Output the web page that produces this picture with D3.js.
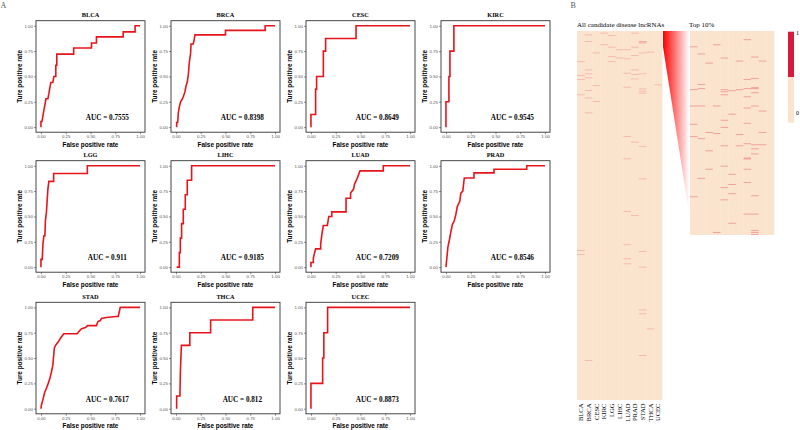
<!DOCTYPE html>
<html>
<head>
<meta charset="utf-8">
<script src="https://cdn.jsdelivr.net/npm/d3@7"></script>
<style>
  body { margin: 0; background: #fff; }
  svg { display: block; }
</style>
</head>
<body>
<svg id="chart" width="800" height="430"></svg>
<script>
// cancer types, in panel order
const cancers = ['BLCA', 'BRCA', 'CESC', 'KIRC', 'LGG', 'LIHC', 'LUAD', 'PRAD', 'STAD', 'THCA', 'UCEC'];
const aucLabels = ['0.7555', '0.8398', '0.8649', '0.9545', '0.911', '0.9185', '0.7209', '0.8546', '0.7617', '0.812', '0.8873'];
const axisTicks = [0, 0.25, 0.5, 0.75, 1];

// ROC curves, [false positive rate, true positive rate]
const rocBLCA = [[0,0],[0,0.056],[0.01,0.056],[0.02,0.11],[0.03,0.17],[0.04,0.22],[0.05,0.28],[0.07,0.28],[0.08,0.33],[0.09,0.39],[0.1,0.44],[0.12,0.44],[0.13,0.5],[0.15,0.5],[0.15,0.61],[0.16,0.61],[0.16,0.72],[0.33,0.72],[0.33,0.78],[0.51,0.78],[0.51,0.83],[0.56,0.83],[0.56,0.89],[0.83,0.89],[0.83,0.94],[0.95,0.94],[0.95,1],[1,1]];
const rocBRCA = [[0.007,0],[0.007,0.045],[0.017,0.045],[0.024,0.14],[0.034,0.2],[0.047,0.25],[0.06,0.27],[0.074,0.3],[0.091,0.35],[0.1,0.4],[0.115,0.45],[0.125,0.52],[0.135,0.64],[0.148,0.73],[0.152,0.82],[0.175,0.82],[0.185,0.87],[0.192,0.91],[0.5,0.91],[0.5,0.955],[0.9,0.955],[0.9,1],[1,1]];
const rocCESC = [[0,0],[0,0.125],[0.047,0.125],[0.047,0.375],[0.057,0.375],[0.057,0.5],[0.125,0.5],[0.125,0.75],[0.148,0.75],[0.148,0.875],[0.455,0.875],[0.455,1],[1,1]];
const rocKIRC = [[0,0],[0,0.25],[0.03,0.25],[0.03,0.5],[0.04,0.5],[0.04,0.75],[0.08,0.75],[0.08,1],[1,1]];
const rocLGG = [[0,0],[0,0.077],[0.013,0.077],[0.02,0.23],[0.03,0.31],[0.04,0.31],[0.045,0.46],[0.055,0.54],[0.07,0.77],[0.08,0.846],[0.128,0.846],[0.128,0.923],[0.468,0.923],[0.468,1],[1,1]];
const rocLIHC = [[0.007,0],[0.034,0],[0.034,0.143],[0.044,0.143],[0.044,0.286],[0.057,0.286],[0.057,0.429],[0.074,0.429],[0.074,0.571],[0.094,0.571],[0.094,0.714],[0.114,0.714],[0.114,0.857],[0.158,0.857],[0.158,1],[1,1]];
const rocLUAD = [[0,0],[0,0.045],[0.024,0.045],[0.024,0.09],[0.047,0.18],[0.098,0.18],[0.098,0.23],[0.11,0.32],[0.125,0.41],[0.165,0.41],[0.18,0.5],[0.21,0.5],[0.21,0.545],[0.354,0.545],[0.354,0.68],[0.4,0.68],[0.4,0.73],[0.43,0.77],[0.44,0.82],[0.46,0.86],[0.48,0.91],[0.495,0.95],[0.73,0.95],[0.73,1],[1,1]];
const rocPRAD = [[0,0],[0.01,0.1],[0.02,0.2],[0.035,0.27],[0.05,0.35],[0.065,0.42],[0.085,0.46],[0.1,0.52],[0.115,0.6],[0.14,0.65],[0.15,0.73],[0.17,0.75],[0.185,0.88],[0.283,0.88],[0.283,0.93],[0.485,0.93],[0.485,0.965],[0.815,0.965],[0.815,1],[1,1]];
const rocSTAD = [[0,0],[0.005,0.04],[0.02,0.09],[0.037,0.16],[0.05,0.19],[0.07,0.24],[0.09,0.3],[0.105,0.36],[0.12,0.43],[0.135,0.6],[0.15,0.63],[0.175,0.66],[0.2,0.7],[0.23,0.74],[0.365,0.74],[0.39,0.77],[0.41,0.79],[0.45,0.8],[0.47,0.82],[0.56,0.82],[0.575,0.86],[0.6,0.87],[0.61,0.89],[0.66,0.9],[0.76,0.91],[0.78,0.91],[0.8,1],[1,1]];
const rocTHCA = [[0.007,0],[0.007,0.125],[0.04,0.125],[0.045,0.375],[0.055,0.625],[0.14,0.625],[0.14,0.75],[0.35,0.75],[0.35,0.875],[0.775,0.875],[0.775,1],[1,1]];
const rocUCEC = [[0,0],[0,0.25],[0.118,0.25],[0.118,0.5],[0.13,0.5],[0.13,0.75],[0.168,0.75],[0.168,1],[1,1]];
const rocCurves = [rocBLCA, rocBRCA, rocCESC, rocKIRC, rocLGG, rocLIHC, rocLUAD, rocPRAD, rocSTAD, rocTHCA, rocUCEC];

// heatmap: rows holding a 1, per cancer (all candidates / top 10%)
const allRows = 2000;
const topRows = 200;
const allHits = [
  [163, 238, 260, 343, 1187, 1209],
  [18, 54, 208, 229, 251, 320, 360, 441, 1783],
  [116, 293, 379],
  [9, 72],
  [22, 85, 136, 163],
  [99, 143],
  [99, 148, 226, 302, 569, 690, 976, 1156, 1232, 1259],
  [9, 85, 130, 208, 233, 257, 600, 997],
  [54, 58, 63, 116, 229, 311, 323, 334, 623, 799, 1192, 1277, 1509, 1530, 1756],
  [112, 1612],
  [289]
];
const topHits = [
  [15, 57, 73, 91, 103, 162],
  [22, 52, 56, 73, 105, 144],
  [31, 99, 117, 135],
  [13, 73, 100, 197],
  [26, 57, 59, 62, 87, 94, 112, 132, 153, 165],
  [58, 81, 140, 150, 159, 188],
  [29, 57, 101, 112],
  [8, 47, 56, 64, 75, 90, 110, 124, 125, 135, 148, 179],
  [25, 46, 55, 56, 60, 73, 111, 115, 120, 161, 179, 195, 197, 199],
  [29, 78, 99, 111],
  []
];
const legendValues = [1, 0];

const svg = d3.select('#chart');
const serif = "'Liberation Serif', 'Times New Roman', serif";
const sans = "'Liberation Sans', Arial, sans-serif";

// ---------- panel A: ROC grid ----------
const colX = [36, 171, 306, 441];
const rowY = [20.7, 160.7, 302.3];
const boxW = 109;
const boxH = 111.5;

svg.append('text').attr('x', 0.5).attr('y', 8).attr('font-family', serif)
  .attr('font-size', '8px').attr('fill', '#555').text('A');

const line = d3.line();

cancers.forEach((name, i) => {
  const g = svg.append('g')
    .attr('transform', `translate(${colX[i % 4]},${rowY[Math.floor(i / 4)]})`);
  const x = d3.scaleLinear().domain([-0.05, 1.05]).range([0, boxW]);
  const y = d3.scaleLinear().domain([-0.05, 1.05]).range([boxH, 0]);

  const xAxis = g.append('g').attr('transform', `translate(0,${boxH})`)
    .call(d3.axisBottom(x).tickValues(axisTicks).tickFormat(d3.format('.2f')).tickSize(2).tickPadding(1));
  const yAxis = g.append('g')
    .call(d3.axisLeft(y).tickValues(axisTicks).tickFormat(d3.format('.2f')).tickSize(2).tickPadding(1));
  [xAxis, yAxis].forEach((a) => {
    a.select('.domain').remove();
    a.selectAll('line').attr('stroke', '#444').attr('stroke-width', 0.6);
    a.selectAll('text').attr('fill', '#555').attr('font-size', '4.4px').attr('font-family', sans);
  });

  g.append('path')
    .datum(rocCurves[i])
    .attr('d', (d) => line(d.map((p) => [x(p[0]), y(p[1])])))
    .attr('fill', 'none')
    .attr('stroke', '#e8141c')
    .attr('stroke-width', 1.6)
    .attr('stroke-linejoin', 'miter');

  g.append('rect').attr('width', boxW).attr('height', boxH)
    .attr('fill', 'none').attr('stroke', '#333').attr('stroke-width', 0.9);

  g.append('text').attr('x', boxW / 2).attr('y', -3.5).attr('text-anchor', 'middle')
    .attr('font-family', serif).attr('font-weight', 'bold').attr('font-size', '6.3px')
    .text(name);

  g.append('text').attr('x', x(0.67)).attr('y', y(0.07)).attr('text-anchor', 'middle')
    .attr('font-family', serif).attr('font-weight', 'bold').attr('font-size', '7.2px')
    .text(`AUC = ${aucLabels[i]}`);

  g.append('text').attr('x', boxW / 2).attr('y', boxH + 14.5).attr('text-anchor', 'middle')
    .attr('font-family', sans).attr('font-weight', 'bold').attr('font-size', '6.4px')
    .text('False positive rate');

  g.append('text').attr('transform', `translate(-16,${boxH / 2}) rotate(-90)`)
    .attr('text-anchor', 'middle').attr('dy', '0.35em')
    .attr('font-family', sans).attr('font-weight', 'bold').attr('font-size', '6.4px')
    .text('Ture positive rate');
});

// ---------- panel B: heatmaps ----------
const color = d3.scaleLinear().domain([0, 1]).range(['#fbe4cd', '#d81b3c']);

svg.append('text').attr('x', 570.5).attr('y', 8).attr('font-family', serif)
  .attr('font-size', '8px').attr('fill', '#555').text('B');

const xAll = d3.scaleBand().domain(cancers).range([577, 662]);
const yAll = d3.scaleLinear().domain([0, allRows]).range([31, 400]);
const xTop = d3.scaleBand().domain(cancers).range([690, 774]);
const yTop = d3.scaleLinear().domain([0, topRows]).range([31, 235]);

function heatmap(xs, ys, nRows, hits, alpha) {
  const g = svg.append('g');
  g.selectAll('rect.bg').data(cancers).enter().append('rect')
    .attr('x', (d) => xs(d)).attr('y', ys(0))
    .attr('width', xs.bandwidth() + 0.3).attr('height', ys(nRows) - ys(0))
    .attr('fill', color(0));
  const cells = [];
  hits.forEach((rows, c) => rows.forEach((r) => cells.push({ c: cancers[c], r: r })));
  g.selectAll('rect.hit').data(cells).enter().append('rect')
    .attr('x', (d) => xs(d.c)).attr('y', (d) => ys(d.r))
    .attr('width', xs.bandwidth())
    .attr('height', (d) => Math.max(ys(d.r + 1) - ys(d.r), 1))
    .attr('fill', color(1)).attr('fill-opacity', alpha);
}
heatmap(xAll, yAll, allRows, allHits, 0.2);
heatmap(xTop, yTop, topRows, topHits, 0.32);

// funnel from the top of the full list to the top 10% map
const grad = svg.append('defs').append('linearGradient').attr('id', 'funnel')
  .attr('x1', '0%').attr('x2', '100%').attr('y1', '0%').attr('y2', '0%');
grad.append('stop').attr('offset', '0%').attr('stop-color', '#ff0000');
grad.append('stop').attr('offset', '100%').attr('stop-color', '#ffffff');
const xl = xAll.range()[1] + 1, xr = xTop.range()[0] - 1;
svg.append('path')
  .attr('d', d3.line()([[xl, yAll(0)], [xr, yTop(0)], [xr, yTop(topRows * 0.89)], [xl, yAll(allRows * 0.043)]]) + 'Z')
  .attr('fill', 'url(#funnel)');

svg.append('text').attr('x', 577).attr('y', 27).attr('font-family', serif)
  .attr('font-size', '7px').text('All candidate disease lncRNAs');
svg.append('text').attr('x', 689).attr('y', 27).attr('font-family', serif)
  .attr('font-size', '7px').text('Top 10%');

svg.append('g').selectAll('text').data(cancers).enter().append('text')
  .attr('transform', (d) => `translate(${xAll(d) + xAll.bandwidth() / 2},403.5) rotate(-90)`)
  .attr('text-anchor', 'end').attr('dy', '0.35em')
  .attr('font-family', serif).attr('font-size', '6.6px')
  .text((d) => d);

// legend
const yLeg = d3.scaleBand().domain(legendValues).range([31.7, 122.7]);
const leg = svg.append('g');
leg.selectAll('rect').data(legendValues).enter().append('rect')
  .attr('x', 788).attr('y', (d) => yLeg(d)).attr('width', 6).attr('height', yLeg.bandwidth())
  .attr('fill', (d) => color(d));
leg.selectAll('text').data(legendValues).enter().append('text')
  .attr('x', 796).attr('y', (d) => (d === 1 ? yLeg(d) + 3 : yLeg(d) + yLeg.bandwidth() - 8))
  .attr('font-family', serif).attr('font-size', '6px').text((d) => d);
</script>
</body>
</html>
